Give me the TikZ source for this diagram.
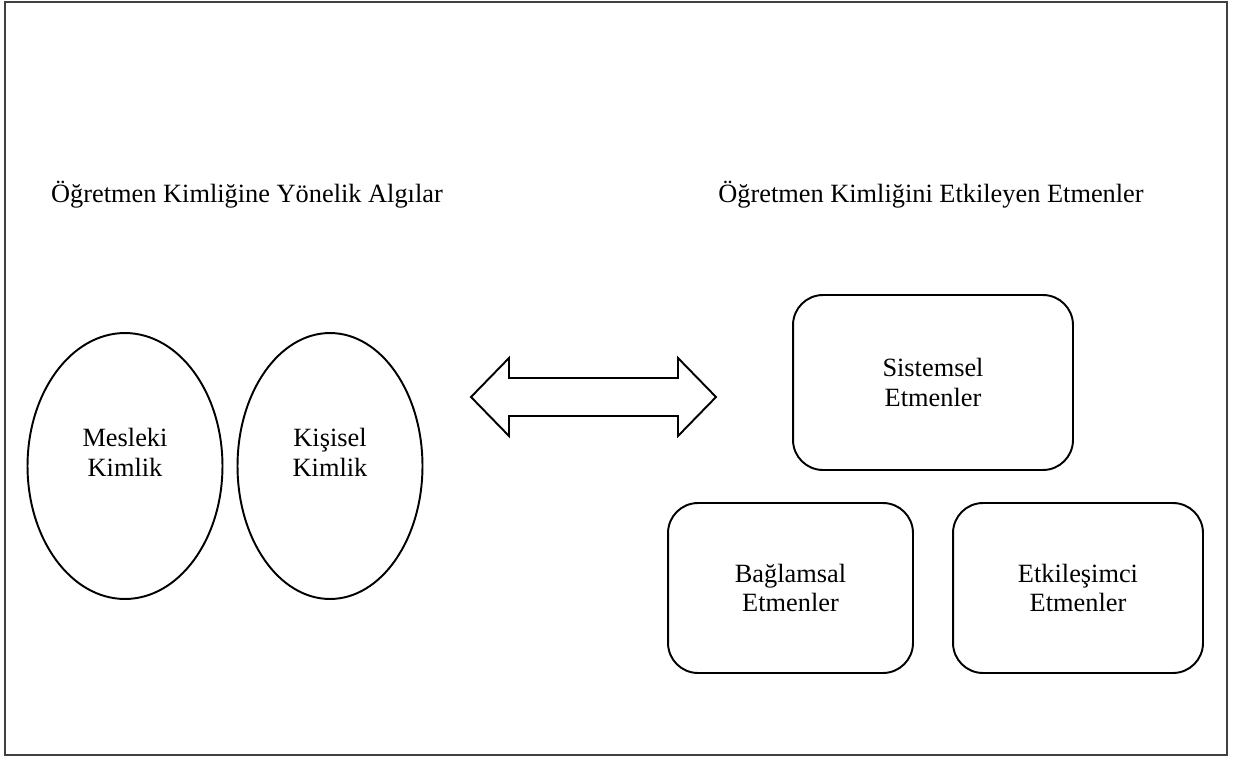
\documentclass[tikz,border=0pt]{standalone}
\usepackage{fontspec}
\setmainfont{Liberation Serif}
\usetikzlibrary{shapes.geometric}

\begin{document}
\begin{tikzpicture}[x=0.02cm, y=-0.02cm,
    every node/.style={font=\fontsize{15}{17}\selectfont, align=center},
    kimlik/.style={draw, line width=1.1pt, ellipse, inner sep=0pt},
    etmen/.style={draw, line width=1.1pt, rounded corners=0.6cm, minimum height=3.4cm}]
                \useasboundingbox (0,0) rectangle (1233,757);
                \draw[black!75, line width=0.8pt] (5,2) rectangle (1227,755);
                \node (algi) at (247,195) {Öğretmen Kimliğine Yönelik Algılar};
                \node (etken) at (931,195) {Öğretmen Kimliğini Etkileyen Etmenler};
                \node[kimlik, minimum width=3.9cm, minimum height=5.32cm] (mesleki) at (125,466) {};
                \node[kimlik, minimum width=3.7cm, minimum height=5.32cm] (kisisel) at (330,466) {};
                \node (meslekiyazi) at (125,452) {Mesleki\\Kimlik};
                \node (kisiselyazi) at (330,452) {Kişisel\\Kimlik};
                \draw[line width=1.1pt] (471,397) -- (509,358) -- (509,378) -- (678,378) -- (678,358) -- (716,397)
                    -- (678,436) -- (678,416) -- (509,416) -- (509,436) -- cycle;
                \node[etmen, minimum width=5.6cm, minimum height=3.5cm] (sistemsel) at (933,382.5) {Sistemsel\\Etmenler};
                \node[etmen, minimum width=4.9cm] (baglamsal) at (790.5,588) {Bağlamsal\\Etmenler};
                \node[etmen, minimum width=5cm] (etkilesimci) at (1078,588) {Etkileşimci\\Etmenler};
            \end{tikzpicture}
\end{document}
